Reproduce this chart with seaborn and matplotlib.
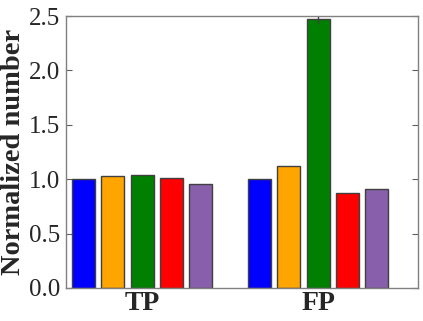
import matplotlib
matplotlib.use("Agg")
import matplotlib.pyplot as plt
import seaborn as sns
import pandas as pd

groups = ["TP", "FP"]
methods = ["m1", "m2", "m3", "m4", "m5"]
values_tp = [1.0, 1.027, 1.04, 1.011, 0.956]
values_fp = [1.0, 1.124, 2.47, 0.87, 0.913]
errors_fp = [0.0, 0.0, 0.04, 0.0, 0.0]
colors = ["#0000ff", "#ffa500", "#008000", "#ff0000", "#875fab"]

rows = []
for g, vals in zip(groups, [values_tp, values_fp]):
    for m, v in zip(methods, vals):
        rows.append({"group": g, "method": m, "value": v})
df = pd.DataFrame(rows)

sns.set_style("white")
plt.rcParams["font.family"] = "serif"
plt.rcParams["font.serif"] = ["Liberation Serif", "DejaVu Serif"]

fig = plt.figure(figsize=(4.23, 3.21), dpi=100)
ax = fig.add_axes([0.156, 0.103, 0.832, 0.847])

sns.barplot(data=df, x="group", y="value", hue="method", palette=colors,
            width=5/6, gap=0.22, edgecolor="#404040", linewidth=1.0,
            errorbar=None, legend=False, ax=ax, saturation=1)

fp_patches = [p for p in ax.patches if p.get_x() > 0.3]
fp_patches.sort(key=lambda p: p.get_x())
for p, e, v in zip(fp_patches, errors_fp, values_fp):
    if e > 0:
        ax.errorbar(p.get_x() + p.get_width() / 2, v, yerr=e, color="#404040",
                    lw=1.0, capsize=0)

ax.set_xlim(-0.433, 1.567)
ax.set_ylim(0, 2.5)
ax.set_yticks([0.0, 0.5, 1.0, 1.5, 2.0, 2.5])
ax.set_yticklabels(["0.0", "0.5", "1.0", "1.5", "2.0", "2.5"])
ax.set_xlabel("")
ax.set_ylabel("Normalized number", fontsize=20.5, fontweight="bold", labelpad=2)
ax.tick_params(axis="y", labelsize=18, direction="in", length=4, right=True,
               left=True, color="#606060", pad=4)
ax.tick_params(axis="x", labelsize=20, direction="in", length=4, top=False,
               bottom=True, color="#606060", pad=2)
for lab in ax.get_xticklabels():
    lab.set_fontweight("bold")
for s in ax.spines.values():
    s.set_visible(True)
    s.set_color("#808080")
    s.set_linewidth(1.0)

fig.savefig("out.png", dpi=100)
